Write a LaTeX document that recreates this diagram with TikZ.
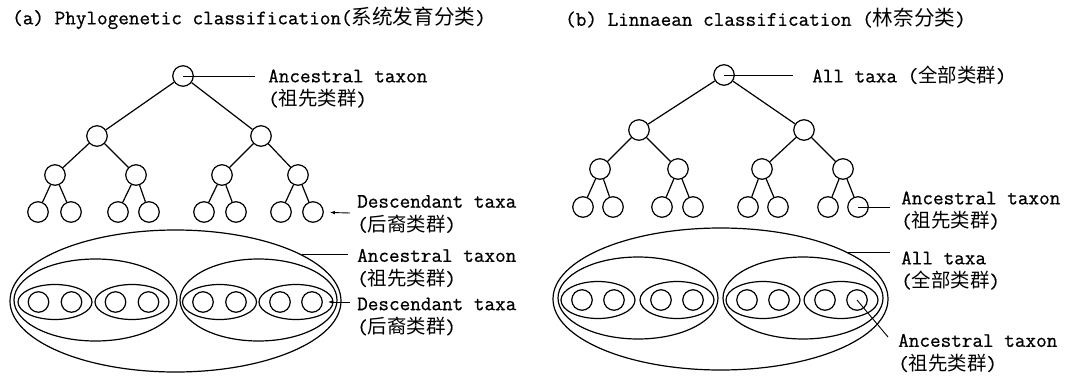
\documentclass[tikz,border=0pt]{standalone}
\usepackage{fontspec}
\setmonofont{Latin Modern Mono}[FakeBold=0.7]
\newfontfamily\cjk{Noto Sans CJK SC}
\usetikzlibrary{shapes.geometric,arrows.meta}
% Chinese glosses set beside the typewriter text
\newcommand\zhtext[1]{{\fontsize{19.4}{23.5}\selectfont\cjk #1}}
\newcommand\zhtitle[1]{{\fontsize{20.6}{23.5}\selectfont\cjk #1}}
\tikzset{
  taxon/.style={circle,draw,line width=1.2pt,minimum size=20.5pt,inner sep=0pt},
  grp/.style={ellipse,draw,line width=1.2pt,inner sep=0pt},
  branch/.style={line width=1.2pt},
  leader/.style={line width=0.9pt},
  pointer/.style={line width=0.9pt,-{Latex[length=5pt,width=3.6pt]}},
  lab/.style={anchor=west,align=left,inner sep=0pt,
    font=\ttfamily\fontsize{20.6}{23.5}\selectfont},
}
\begin{document}
\begin{tikzpicture}[x=1pt,y=-1pt]
\useasboundingbox (0,0) rectangle (1065,375);

% ---------------- (a) phylogenetic classification ----------------
\node[lab] (aT) at (12,18) {(a) Phylogenetic classification(\zhtitle{系统发育分类})};

% tree
\node[taxon] (aR) at (183,76) {};
\node[taxon] (aL) at (97,136) {};
\node[taxon] (aRr) at (261,136) {};
\node[taxon] (a1) at (55,175) {};
\node[taxon] (a2) at (136,175) {};
\node[taxon] (a3) at (222,175) {};
\node[taxon] (a4) at (298,175) {};
\foreach \n/\x in {1/38,2/71,3/118,4/149,5/204,6/236,7/281,8/313}
  \node[taxon] (al\n) at (\x,212) {};
\foreach \p/\c in {aR/aL,aR/aRr,aL/a1,aL/a2,aRr/a3,aRr/a4,
                   a1/al1,a1/al2,a2/al3,a2/al4,a3/al5,a3/al6,a4/al7,a4/al8}
  \draw[branch] (\p) -- (\c);

% nested groups
\node[grp,minimum width=331pt,minimum height=142pt] (aO) at (175.5,301) {};
\node[grp,minimum width=163pt,minimum height=82pt] (aG1) at (95.5,300) {};
\node[grp,minimum width=157pt,minimum height=82pt] (aG2) at (258.5,300) {};
\foreach \n/\x in {1/55,2/132,3/219.5,4/296}
  \node[grp,minimum width=74pt,minimum height=35pt] (aS\n) at (\x,302) {};
\foreach \n/\x in {1/38.5,2/71.5,3/115.5,4/148.5,5/203,6/236,7/280,8/312}
  \node[taxon] (ac\n) at (\x,302) {};

% labels of (a)
\coordinate (at1) at (255,76);
\draw[leader] (aR.center) -- (at1);
\node[lab] (aL1) at (268,88.5) {Ancestral taxon\\(\zhtext{祖先类群})};

\coordinate (ad1) at (350,213);
\draw[pointer,shorten >=6pt] (ad1) -- (al8);
\node[lab] (aL2) at (357,214) {Descendant taxa\\(\zhtext{后裔类群})};

\coordinate (at2) at (348,255);
\draw[leader] (aO.20) -- (aO.20 -| at2);
\node[lab] (aL3) at (357,268) {Ancestral taxon\\(\zhtext{祖先类群})};

\coordinate (ad2) at (350,302);
\draw[pointer,shorten >=5pt] (ad2) -- (ac8);
\node[lab] (aL4) at (357,316.5) {Descendant taxa\\(\zhtext{后裔类群})};

% ---------------- (b) Linnaean classification ----------------
\node[lab] (bT) at (565,18) {(b) Linnaean classification (\zhtitle{林奈分类})};

% tree
\node[taxon] (bR) at (724,75) {};
\node[taxon] (bL) at (639,130) {};
\node[taxon] (bRr) at (804,130) {};
\node[taxon] (b1) at (600,169) {};
\node[taxon] (b2) at (678,169) {};
\node[taxon] (b3) at (762,169) {};
\node[taxon] (b4) at (843,169) {};
\foreach \n/\x in {1/583,2/613,3/662,4/693,5/748,6/778,7/828,8/858}
  \node[taxon] (bl\n) at (\x,207) {};
\foreach \p/\c in {bR/bL,bR/bRr,bL/b1,bL/b2,bRr/b3,bRr/b4,
                   b1/bl1,b1/bl2,b2/bl3,b2/bl4,b3/bl5,b3/bl6,b4/bl7,b4/bl8}
  \draw[branch] (\p) -- (\c);

% nested groups
\node[grp,minimum width=335pt,minimum height=142pt] (bO) at (720.5,299) {};
\node[grp,minimum width=160pt,minimum height=82pt] (bG1) at (638,298) {};
\node[grp,minimum width=160pt,minimum height=82pt] (bG2) at (803,298) {};
\foreach \n/\x in {1/598,2/677,3/763,4/841}
  \node[grp,minimum width=74pt,minimum height=37pt] (bS\n) at (\x,300) {};
\foreach \n/\x in {1/582,2/614,3/661,4/693,5/747,6/779,7/825,8/857}
  \node[taxon] (bc\n) at (\x,300) {};

% labels of (b)
\coordinate (bt1) at (793,75);
\draw[leader] (bR.center) -- (bt1);
\node[lab] (bL1) at (812,75) {All taxa (\zhtext{全部类群})};

\coordinate (bt2) at (890,207);
\draw[leader] (bl8.center) -- (bt2);
\node[lab] (bL2) at (901,210.5) {Ancestral taxon\\(\zhtext{祖先类群})};

\coordinate (bt3) at (890,253);
\draw[leader] (bO.20) -- (bO.20 -| bt3);
\node[lab] (bL3) at (901,270.5) {All taxa\\(\zhtext{全部类群})};

\coordinate (bt4) at (888,337);
\draw[leader] (bc8.center) -- (bt4);
\node[lab] (bL4) at (898,353) {Ancestral taxon\\(\zhtext{祖先类群})};
\end{tikzpicture}
\end{document}
